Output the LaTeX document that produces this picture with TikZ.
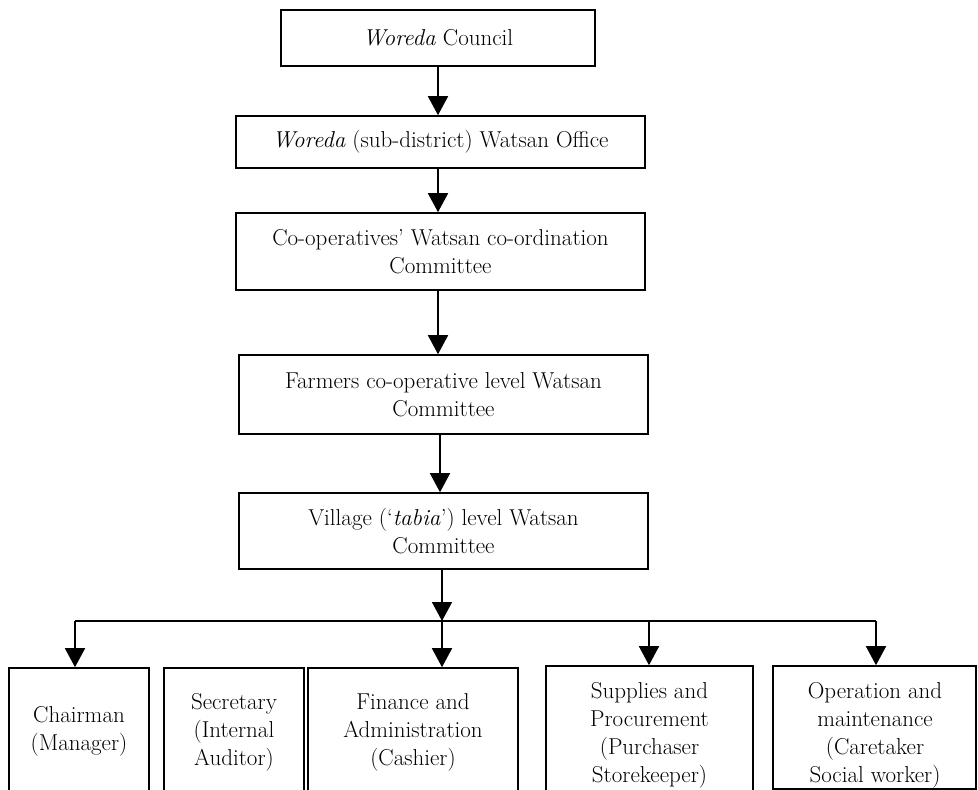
\documentclass[tikz,border=0pt]{standalone}
\usepackage{fontspec}
\usetikzlibrary{arrows.meta,fit}
\begin{document}
\begin{tikzpicture}[x=1pt,y=-1pt,
  box/.style={draw,line width=1.6pt,inner sep=0pt,align=center,font=\fontsize{23}{28}\selectfont},
  fbox/.style={draw,line width=1.6pt,inner sep=0pt},
  txt/.style={inner sep=0pt,align=center,font=\fontsize{23}{28}\selectfont},
  arr/.style={line width=1.6pt,-{Triangle[width=20pt,length=19pt]}},
  ln/.style={line width=1.6pt}]
\useasboundingbox (0,0) rectangle (978,790);
% main chain
\node[box,minimum width=314pt,minimum height=56pt] (n1) at (438,38) {\textit{Woreda} Council};
\node[box,minimum width=409pt,minimum height=52pt] (n2) at (440.5,142) {\textit{Woreda} (sub-district) Watsan Office};
\node[box,minimum width=409pt,minimum height=77pt] (n3) at (440.5,251.5) {Co-operatives’ Watsan co-ordination\\Committee};
\node[box,minimum width=409pt,minimum height=79pt] (n4) at (443.5,394.5) {Farmers co-operative level Watsan\\Committee};
\node[box,minimum width=409pt,minimum height=76pt] (n5) at (443.5,531) {Village (‘\textit{tabia}’) level Watsan\\Committee};
\draw[arr] (n1.south) -- (n1.south |- n2.north);
\draw[arr] ([xshift=-2.5pt]n2.south) -- ([xshift=-2.5pt]n2.south |- n3.north);
\draw[arr] ([xshift=-2.5pt]n3.south) -- ([xshift=-2.5pt]n3.south |- n4.north);
\draw[arr] ([xshift=-3.5pt]n4.south) -- ([xshift=-3.5pt]n4.south |- n5.north);
% bottom row boxes
\node[fbox,fit={(9,668) (149,800)}] (a) {};
\node[fbox,fit={(164,668) (304,800)}] (b) {};
\node[fbox,fit={(308,668) (518,800)}] (c) {};
\node[fbox,fit={(546,666) (753,800)}] (d) {};
\node[fbox,fit={(773,666) (976,789)}] (e) {};
\node[txt] (at) at (79,731) {Chairman\\(Manager)};
\node[txt] (bt) at (234,732.5) {Secretary\\(Internal\\Auditor)};
\node[txt] (ct) at (413,732.5) {Finance and\\Administration\\(Cashier)};
\node[txt] (dt) at (649.5,735.5) {Supplies and\\Procurement\\(Purchaser\\Storekeeper)};
\node[txt] (et) at (875,735.5) {Operation and\\maintenance\\(Caretaker\\Social worker)};
% bus
\coordinate (bus) at (442,621);
\coordinate (busL) at (75,621);
\coordinate (busR) at (876,621);
\coordinate (busD) at (649,621);
\draw[arr] (bus |- n5.south) -- (bus);
\draw[ln] (busL) -- (busR);
\draw[arr] (busL) -- (busL |- a.north);
\draw[arr] (bus) -- (bus |- c.north);
\draw[arr] (busD) -- (busD |- d.north);
\draw[arr] (busR) -- (busR |- e.north);
\end{tikzpicture}
\end{document}
